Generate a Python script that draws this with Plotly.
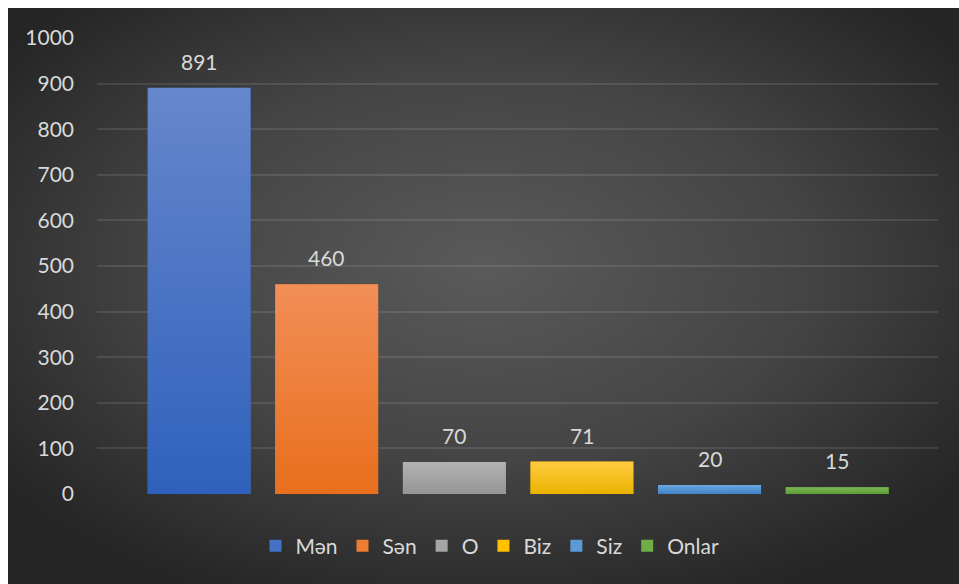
import base64
import plotly.graph_objects as go

categories = ["Mən", "Sən", "O", "Biz", "Siz", "Onlar"]
values = [891, 460, 70, 71, 20, 15]
base_colors = ["#4472C4", "#ED7D31", "#A5A5A5", "#FFC000", "#5B9BD5", "#70AD47"]
top_colors = ["#6687CC", "#F28E58", "#B3B3B3", "#FFCC40", "#6BA8E0", "#79B853"]
bottom_colors = ["#2F61BC", "#E86F1C", "#959595", "#EAB200", "#3E82C8", "#5E9C35"]
y_ticks = [0, 100, 200, 300, 400, 500, 600, 700, 800, 900, 1000]

W, H = 959, 584
ML, MR, MT, MB = 97, 21, 38, 90
PW, PH = W - ML - MR, H - MT - MB
BAR_W = 0.807
FONT = "Lato"
FS = 21
TXT = "#D9D9D9"


def svg_uri(svg):
    return "data:image/svg+xml;base64," + base64.b64encode(svg.encode()).decode()


bg_svg = (
    '<svg xmlns="http://www.w3.org/2000/svg" width="951" height="576" viewBox="0 0 951 576" preserveAspectRatio="none">'
    '<defs><radialGradient id="g" cx="50%" cy="45%" r="62%">'
    '<stop offset="0%" stop-color="#5A5A5A"/><stop offset="55%" stop-color="#444444"/>'
    '<stop offset="100%" stop-color="#262626"/></radialGradient></defs>'
    '<rect width="951" height="576" fill="url(#g)"/></svg>'
)

fig = go.Figure()
for cat, val, col in zip(categories, values, base_colors):
    fig.add_trace(go.Bar(x=[cat], y=[val], name=cat, width=BAR_W,
                         marker=dict(color=col, line=dict(width=0)),
                         hoverinfo="x+y"))

images = [dict(source=svg_uri(bg_svg), xref="paper", yref="paper",
               x=(8 - ML) / PW, y=(MT + PH - 8) / PH,
               sizex=(W - 8) / PW, sizey=(H - 8) / PH,
               xanchor="left", yanchor="top", sizing="stretch", layer="below")]

for i, (val, tc, bc) in enumerate(zip(values, top_colors, bottom_colors)):
    bar_svg = (
        '<svg xmlns="http://www.w3.org/2000/svg" width="100" height="100" viewBox="0 0 100 100" preserveAspectRatio="none">'
        '<defs><linearGradient id="b" x1="0" y1="0" x2="0" y2="1">'
        f'<stop offset="0%" stop-color="{tc}"/><stop offset="100%" stop-color="{bc}"/></linearGradient></defs>'
        '<rect width="100" height="100" fill="url(#b)"/></svg>'
    )
    images.append(dict(source=svg_uri(bar_svg), xref="x", yref="y",
                       x=i - BAR_W / 2, y=val, sizex=BAR_W, sizey=val,
                       xanchor="left", yanchor="top", sizing="stretch", layer="above"))

annotations = [dict(x=cat, y=val, text=str(val), showarrow=False, yanchor="bottom",
                    yshift=12, font=dict(family=FONT, size=FS, color=TXT))
               for cat, val in zip(categories, values)]

fig.update_layout(
    width=W, height=H,
    margin=dict(l=ML, r=MR, t=MT, b=MB, pad=0),
    paper_bgcolor="#FFFFFF",
    plot_bgcolor="rgba(0,0,0,0)",
    barmode="overlay",
    font=dict(family=FONT, size=FS, color=TXT),
    images=images,
    annotations=annotations,
    showlegend=True,
    legend=dict(orientation="h", x=(490 - ML) / PW, xanchor="center", y=(MT + PH - 546) / PH,
                yanchor="middle", font=dict(family=FONT, size=FS, color=TXT),
                bgcolor="rgba(0,0,0,0)", itemwidth=30, traceorder="normal"),
    xaxis=dict(range=[-0.8, 5.79], showticklabels=False, showgrid=False,
               zeroline=False, showline=False, ticks=""),
    yaxis=dict(range=[0, 1000], tickvals=y_ticks, ticktext=[str(v) for v in y_ticks],
               showgrid=True, gridcolor="rgba(255,255,255,0.10)", gridwidth=2,
               zeroline=False, showline=False, ticks="", ticklabelstandoff=22,
               tickfont=dict(family=FONT, size=FS, color=TXT)),
)

fig.write_html("out.html")
